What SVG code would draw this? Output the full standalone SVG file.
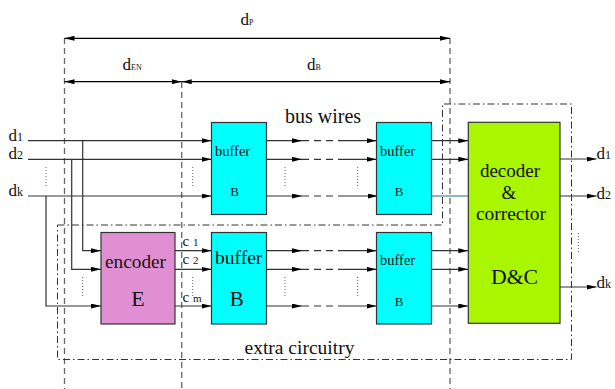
<svg xmlns="http://www.w3.org/2000/svg" width="615" height="389" viewBox="0 0 615 389">
<style>
text{font-family:"Liberation Serif","Times New Roman",serif;fill:#111}
.w{stroke:#333;stroke-width:1.2;fill:none}
.a{marker-end:url(#ah)}
.dim{stroke:#000;stroke-width:1.2;fill:none;marker-start:url(#ah);marker-end:url(#ah)}
.vd{stroke:#666;stroke-width:1.3;stroke-dasharray:6 4;fill:none}
.dd{stroke:#333;stroke-width:1;stroke-dasharray:7 3 1.5 3;fill:none}
.dot{stroke:#666;stroke-width:1;stroke-dasharray:1 2;fill:none}
.bd{stroke:#333;stroke-width:1.2;stroke-dasharray:7 5;fill:none}
.buf{fill:#00ffff;stroke:#333;stroke-width:1.2}
</style>
<defs>
<marker id="ah" markerUnits="userSpaceOnUse" viewBox="0 0 10 5" refX="10" refY="2.5" markerWidth="10" markerHeight="5" orient="auto-start-reverse">
<path d="M0,0 L10,2.5 L0,5 z" fill="#000"/>
</marker>
</defs>
<rect width="615" height="389" fill="#fff"/>

<g id="dimensions">
<line class="vd" x1="64.5" y1="38" x2="64.5" y2="389"/>
<line class="vd" x1="181.7" y1="82" x2="181.7" y2="389"/>
<line class="vd" x1="450" y1="38" x2="450" y2="389"/>
<line class="dim" x1="64.5" y1="38.3" x2="450" y2="38.3"/>
<line class="dim" x1="64.5" y1="81.7" x2="181.7" y2="81.7"/>
<line class="dim" x1="181.7" y1="81.7" x2="450" y2="81.7"/>
<text x="240.5" y="25" font-size="17">d<tspan font-size="8">P</tspan></text>
<text x="122.5" y="70" font-size="17">d<tspan font-size="8">EN</tspan></text>
<text x="307" y="70" font-size="17">d<tspan font-size="8">B</tspan></text>
</g>

<g id="extra-circuitry">
<path class="dd" d="M57.5,225 H442.5 V104 H571.5 V359.5 H57.5 Z"/>
<text x="244.5" y="354" font-size="19.5">extra circuitry</text>
</g>

<g id="labels">
<text x="323" y="123" font-size="20" text-anchor="middle">bus wires</text>
<text x="8.5" y="141" font-size="17">d<tspan font-size="12">1</tspan></text>
<text x="8.5" y="158.5" font-size="17">d<tspan font-size="12">2</tspan></text>
<text x="8.5" y="196" font-size="17">d<tspan font-size="12">k</tspan></text>
<text x="596.5" y="159" font-size="17">d<tspan font-size="12">1</tspan></text>
<text x="596.5" y="199" font-size="17">d<tspan font-size="12">2</tspan></text>
<text x="596.5" y="288" font-size="17">d<tspan font-size="12">k</tspan></text>
<text x="182.5" y="246" font-size="15">c <tspan font-size="11">1</tspan></text>
<text x="182.5" y="264" font-size="15">c <tspan font-size="11">2</tspan></text>
<text x="182.5" y="302" font-size="15">c <tspan font-size="11">m</tspan></text>
</g>

<g id="connectors">
<line class="w a" x1="28" y1="140.7" x2="211.5" y2="140.7"/>
<line class="w a" x1="28" y1="159.3" x2="211.5" y2="159.3"/>
<line class="w a" x1="28" y1="196" x2="211.5" y2="196"/>
<path class="w a" d="M82.7,140.7 V250.7 H101"/>
<path class="w a" d="M71.7,159.3 V269.3 H101"/>
<path class="w a" d="M46,196 V306 H101"/>
<line class="dot" x1="46" y1="167" x2="46" y2="188"/>
<line class="dot" x1="192.7" y1="167" x2="192.7" y2="188"/>
<line class="dot" x1="82.7" y1="277" x2="82.7" y2="298"/>
<line class="dot" x1="192.7" y1="277" x2="192.7" y2="298"/>
<line class="w a" x1="175" y1="250.7" x2="211.5" y2="250.7"/>
<line class="w a" x1="175" y1="269.3" x2="211.5" y2="269.3"/>
<line class="w a" x1="175" y1="306" x2="211.5" y2="306"/>
<g id="bus-top">
<line class="w a" x1="266.5" y1="140.7" x2="302" y2="140.7"/>
<line class="bd" x1="302" y1="140.7" x2="340" y2="140.7"/>
<line class="w a" x1="340" y1="140.7" x2="376.5" y2="140.7"/>
<line class="w a" x1="266.5" y1="159.3" x2="302" y2="159.3"/>
<line class="bd" x1="302" y1="159.3" x2="340" y2="159.3"/>
<line class="w a" x1="340" y1="159.3" x2="376.5" y2="159.3"/>
<line class="w a" x1="266.5" y1="196" x2="302" y2="196"/>
<line class="bd" x1="302" y1="196" x2="340" y2="196"/>
<line class="w a" x1="340" y1="196" x2="378" y2="196"/>
<line class="dot" x1="285" y1="167" x2="285" y2="188"/>
<line class="dot" x1="357.7" y1="167" x2="357.7" y2="188"/>
</g>
<g id="bus-bottom">
<line class="w a" x1="266.5" y1="250.7" x2="302" y2="250.7"/>
<line class="bd" x1="302" y1="250.7" x2="340" y2="250.7"/>
<line class="w a" x1="340" y1="250.7" x2="376.5" y2="250.7"/>
<line class="w a" x1="266.5" y1="269.3" x2="302" y2="269.3"/>
<line class="bd" x1="302" y1="269.3" x2="340" y2="269.3"/>
<line class="w a" x1="340" y1="269.3" x2="376.5" y2="269.3"/>
<line class="w a" x1="266.5" y1="306" x2="302" y2="306"/>
<line class="bd" x1="302" y1="306" x2="340" y2="306"/>
<line class="w a" x1="340" y1="306" x2="376.5" y2="306"/>
<line class="dot" x1="285" y1="277" x2="285" y2="298"/>
<line class="dot" x1="357.7" y1="277" x2="357.7" y2="298"/>
</g>
<line class="w a" x1="431.5" y1="140.7" x2="468.3" y2="140.7"/>
<line class="w a" x1="431.5" y1="159.3" x2="468.3" y2="159.3"/>
<line x1="431.5" y1="196" x2="468.3" y2="196" stroke="#2a6e6e" stroke-width="1.2"/>
<line class="w a" x1="431.5" y1="250.7" x2="468.3" y2="250.7"/>
<line class="w a" x1="431.5" y1="269.3" x2="468.3" y2="269.3"/>
<line class="w a" x1="431.5" y1="306" x2="468.3" y2="306"/>
<line class="w a" x1="560" y1="159" x2="596.5" y2="159"/>
<line class="w a" x1="560" y1="196" x2="596.5" y2="196"/>
<line class="w a" x1="560" y1="287" x2="596.5" y2="287"/>
<line class="dot" x1="578.3" y1="233" x2="578.3" y2="253"/>
</g>

<g id="buffer-top-1">
<rect class="buf" x="211.5" y="122.5" width="55" height="92"/>
<text x="215" y="155.5" font-size="14.5">buffer</text>
<text x="234.5" y="195.5" font-size="13" text-anchor="middle">B</text>
</g>
<g id="buffer-top-2">
<rect class="buf" x="376.5" y="122.5" width="55" height="92"/>
<text x="380" y="155.5" font-size="14.5">buffer</text>
<text x="399" y="195.5" font-size="13" text-anchor="middle">B</text>
</g>
<g id="encoder">
<rect x="101" y="232.5" width="74" height="91.5" fill="#e08fd2" stroke="#333" stroke-width="1.2"/>
<text x="135.5" y="268.3" font-size="19.3" text-anchor="middle">encoder</text>
<text x="138" y="306" font-size="22" text-anchor="middle">E</text>
</g>
<g id="buffer-bottom-1">
<rect class="buf" x="211.5" y="232.5" width="55" height="91.5"/>
<text x="215" y="264" font-size="19.5">buffer</text>
<text x="236.7" y="305.7" font-size="21" text-anchor="middle">B</text>
</g>
<g id="buffer-bottom-2">
<rect class="buf" x="376.5" y="232.5" width="55" height="91.5"/>
<text x="380" y="265" font-size="14.5">buffer</text>
<text x="399" y="305.7" font-size="13" text-anchor="middle">B</text>
</g>
<g id="decoder-corrector">
<rect x="468.3" y="122.3" width="91.7" height="201" fill="#aaf500" stroke="#333" stroke-width="1.2"/>
<text x="510" y="177" font-size="19" text-anchor="middle">decoder</text>
<text x="509" y="199" font-size="19" text-anchor="middle">&amp;</text>
<text x="511" y="220" font-size="19.4" text-anchor="middle">corrector</text>
<text x="514.5" y="284" font-size="21.7" text-anchor="middle">D&amp;C</text>
</g>
</svg>
